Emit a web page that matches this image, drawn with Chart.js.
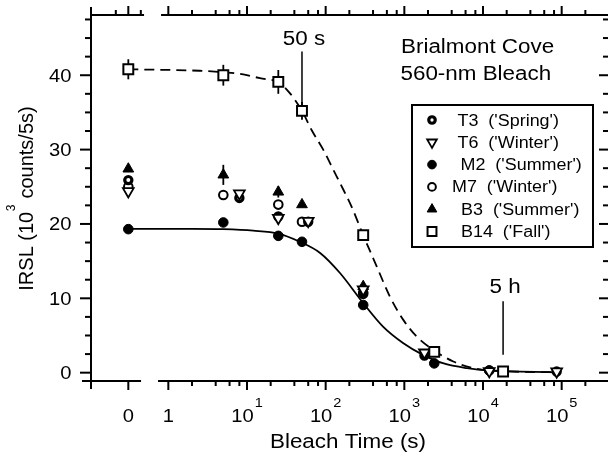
<!DOCTYPE html>
<html>
<head>
<meta charset="utf-8">
<title>Brialmont Cove IRSL bleach</title>
<script src="https://cdn.jsdelivr.net/npm/chart.js@4.4.1/dist/chart.umd.min.js"></script>
<style>
  html, body { margin: 0; padding: 0; background: #fff; }
  #wrap { width: 608px; height: 460px; position: relative; }
</style>
</head>
<body>
<div id="wrap"><canvas id="chart"></canvas></div>
<script>
// bleach times in seconds; 0 s sits on the short broken-off stub of the axis
const ZERO_POS = 0.31;

const t3Times  = [0, 8, 25, 60, 300, 1800, 12000, 86400];
const t3Values = [25.9, 23.5, 21.0, 20.3, 10.8, 2.3, 0.3, 0.15];

const t6Times  = [0, 8, 25, 60, 300, 1800, 12000, 86400];
const t6Values = [24.4, 24.1, 20.8, 20.4, 11.2, 2.7, 0.2, 0.15];

const m2Times  = [0, 5, 25, 50, 300, 2400, 12000];
const m2Values = [19.3, 20.2, 18.4, 17.6, 9.1, 1.25, 0.3];

const m7Times  = [0, 5, 25, 50, 300];
const m7Values = [25.0, 23.9, 22.6, 20.3, 10.6];

const b3Times  = [0, 5, 25, 50, 300];
const b3Values = [27.4, 26.6, 24.3, 22.6, 11.6];
const b3Err    = [0, 1.35, 0.75, 0, 0];

const b14Times  = [0, 5, 25, 50, 300, 2400, 18000];
const b14Values = [40.8, 40.0, 39.1, 35.2, 18.5, 2.8, 0.15];
const b14Err    = [1.35, 1.4, 1.6, 1.2, 0, 0, 0];

// fitted curves
const fitM2Times  = [0, 2, 5, 12, 25, 47, 85, 152, 298, 536, 962, 1726, 3090, 6270, 12300, 87000];
const fitM2Values = [19.35, 19.35, 19.3, 19.1, 18.7, 17.6, 16.1, 13.4, 9.4, 6.2, 4.0, 2.4, 1.27, 0.6, 0.27, 0.05];

const fitB14Times  = [0, 2.5, 5, 8, 14.6, 25.6, 35, 50, 66.5, 93, 125, 168, 214, 300, 445, 657, 970, 1436, 2335, 4190, 7520, 16400, 87000];
const fitB14Values = [40.8, 40.6, 40.4, 40.2, 39.6, 39.0, 37.6, 35.2, 32.6, 30.0, 27.3, 24.6, 22.3, 18.5, 14.3, 10.2, 7.1, 4.85, 3.05, 1.5, 0.6, 0.23, 0.05];

const legendLabels = ["T3  ('Spring')", "T6  ('Winter')", "M2  ('Summer')", "M7  ('Winter')", "B3  ('Summer')", "B14  ('Fall')"];

const xTickValues = [0, 1, 10, 100, 1000, 10000, 100000];
const xTickLabels = ['0', '1', '10^1', '10^2', '10^3', '10^4', '10^5'];
const yTickValues = [0, 10, 20, 30, 40];
const yTickLabels = ['0', '10', '20', '30', '40'];

const annotations = [
  { time: 50, label: '50 s', textAt: 44.0, lineFrom: 43.2, lineTo: 36.0 },
  { time: 18000, label: '5 h', textAt: 10.75, lineFrom: 9.6, lineTo: 2.4 }
];

const SX = 1.12;  // type in the original is set a little wide
const FONT = '"Liberation Sans", Arial, sans-serif';

function xPos(t) { return t === 0 ? ZERO_POS : t; }
function toPts(times, vals) { return times.map((t, i) => ({ x: xPos(t), y: vals[i] })); }

function text(ctx, str, x, y, size, align) {
  ctx.font = size + 'px ' + FONT;
  const w = ctx.measureText(str).width * SX;
  const x0 = align === 'center' ? x - w / 2 : align === 'right' ? x - w : x;
  ctx.save();
  ctx.translate(x0, y);
  ctx.scale(SX, 1);
  ctx.fillText(str, 0, 0);
  ctx.restore();
  return w;
}

function seg(ctx, x1, y1, x2, y2) {
  ctx.beginPath(); ctx.moveTo(x1, y1); ctx.lineTo(x2, y2); ctx.stroke();
}

const series = [
  { label: legendLabels[0], times: t3Times, values: t3Values, style: { pointStyle: 'circle', radius: 3.6, borderWidth: 3.2, fill: '#fff', rotation: 0 }, order: 3, lx: 457.5 },
  { label: legendLabels[1], times: t6Times, values: t6Values, style: { pointStyle: 'triangle', radius: 6.2, borderWidth: 1.8, fill: '#fff', rotation: 180 }, order: 2, lx: 457.5 },
  { label: legendLabels[2], times: m2Times, values: m2Values, style: { pointStyle: 'circle', radius: 4.8, borderWidth: 1, fill: '#000', rotation: 0 }, order: 5, lx: 460.5 },
  { label: legendLabels[3], times: m7Times, values: m7Values, style: { pointStyle: 'circle', radius: 4.3, borderWidth: 2, fill: '#fff', rotation: 0 }, order: 4, lx: 452 },
  { label: legendLabels[4], times: b3Times, values: b3Values, style: { pointStyle: 'triangle', radius: 6.2, borderWidth: 1, fill: '#000', rotation: 0 }, order: 6, lx: 461 },
  { label: legendLabels[5], times: b14Times, values: b14Values, style: { pointStyle: 'rect', radius: 7, borderWidth: 2, fill: '#fff', rotation: 0 }, order: 1, lx: 461 }
];

const errorSets = [
  { times: b14Times, values: b14Values, err: b14Err },
  { times: b3Times, values: b3Values, err: b3Err }
];

const datasets = series.map(s => ({
  label: s.label,
  data: toPts(s.times, s.values),
  showLine: false,
  pointStyle: s.style.pointStyle,
  pointRadius: s.style.radius,
  pointRotation: s.style.rotation,
  pointBorderWidth: s.style.borderWidth,
  pointBackgroundColor: s.style.fill,
  pointBorderColor: '#000',
  order: s.order
}));

datasets.push({
  label: 'fit M2',
  data: toPts(fitM2Times, fitM2Values),
  showLine: true, pointRadius: 0, borderColor: '#000', borderWidth: 1.8,
  cubicInterpolationMode: 'monotone', order: 20
});
datasets.push({
  label: 'fit B14',
  data: toPts(fitB14Times, fitB14Values),
  showLine: true, pointRadius: 0, borderColor: '#000', borderWidth: 1.8,
  borderDash: [10, 6], cubicInterpolationMode: 'monotone', order: 21
});

const decorPlugin = {
  id: 'decor',
  beforeDatasetsDraw(chart) {
    const ctx = chart.ctx, xs = chart.scales.x, ys = chart.scales.y;
    ctx.save();
    ctx.strokeStyle = '#000';
    ctx.lineWidth = 1.8;
    errorSets.forEach(set => {
      set.times.forEach((t, i) => {
        const e = set.err[i];
        if (!e) return;
        const px = xs.getPixelForValue(xPos(t));
        seg(ctx, px, ys.getPixelForValue(set.values[i] - e), px, ys.getPixelForValue(set.values[i] + e));
      });
    });
    ctx.restore();
  },
  afterDatasetsDraw(chart) {
    const ctx = chart.ctx, xs = chart.scales.x, ys = chart.scales.y;
    const a = chart.chartArea;
    const L = a.left, R = a.right, T = a.top, B = a.bottom;
    ctx.save();
    ctx.strokeStyle = '#000';
    ctx.fillStyle = '#000';
    ctx.lineWidth = 2;

    // frame with the break between 0 and 1 s
    const bx1 = xs.getPixelForValue(0.45), bx2 = xs.getPixelForValue(0.74);
    seg(ctx, L, T - 8, L, B + 8);
    seg(ctx, L - 9, B, bx1, B);
    seg(ctx, bx2, B, R, B);
    seg(ctx, L, T, bx1 + 3, T);
    seg(ctx, bx2 + 3, T, R, T);

    // x ticks
    const minors = [];
    for (let d = 1; d <= 1e5; d *= 10) {
      [2, 4, 6, 8].forEach(m => { if (d * m < xs.max) minors.push(d * m); });
    }
    xTickValues.forEach(v => {
      const px = xs.getPixelForValue(xPos(v));
      seg(ctx, px, B, px, B + 9);
      seg(ctx, px, T, px, T - 9);
    });
    minors.forEach(v => {
      const px = xs.getPixelForValue(v);
      seg(ctx, px, B, px, B + 5);
      seg(ctx, px, T, px, T - 5);
    });
    const zx = xs.getPixelForValue(ZERO_POS);
    seg(ctx, zx - 12.5, T, zx - 12.5, T - 5);
    seg(ctx, zx + 12.5, T, zx + 12.5, T - 5);

    // y ticks, left (outward) and right (inward)
    for (let v = 0; v < ys.max; v += 2.5) {
      const py = ys.getPixelForValue(v);
      const major = v % 10 === 0;
      seg(ctx, L, py, L - (major ? 11 : 6), py);
      seg(ctx, R, py, R - (major ? 9 : 5), py);
    }

    // tick labels
    xTickValues.forEach((v, i) => {
      const px = xs.getPixelForValue(xPos(v));
      const parts = xTickLabels[i].split('^');
      if (parts.length === 1) {
        text(ctx, parts[0], px, 421.5, 18, 'center');
      } else {
        ctx.font = '18px ' + FONT;
        const w1 = ctx.measureText(parts[0]).width * SX;
        ctx.font = '13px ' + FONT;
        const w2 = ctx.measureText(parts[1]).width * SX;
        const x0 = px - (w1 + w2 + 1) / 2;
        text(ctx, parts[0], x0, 421.5, 18, 'left');
        text(ctx, parts[1], x0 + w1 + 1, 406.5, 13, 'left');
      }
    });
    yTickValues.forEach((v, i) => {
      const py = ys.getPixelForValue(v);
      text(ctx, yTickLabels[i], 71.5, py + 6.4, 18, 'right');
    });

    // axis titles
    text(ctx, 'Bleach Time (s)', 348, 447.5, 20, 'center');
    ctx.save();
    ctx.translate(33.3, 198.5);
    ctx.scale(1.05, 1);
    ctx.rotate(-Math.PI / 2);
    ctx.font = '20px ' + FONT;
    const p1 = 'IRSL (10', p3 = ' counts/5s)';
    const w1 = ctx.measureText(p1).width, w3 = ctx.measureText(p3).width;
    ctx.font = '12px ' + FONT;
    const w2 = ctx.measureText('3').width + 1;
    let u = -(w1 + w2 + w3) / 2;
    ctx.font = '20px ' + FONT;
    ctx.fillText(p1, u, 0);
    ctx.font = '12px ' + FONT;
    ctx.fillText('3', u + w1 + 0.5, -17);
    ctx.font = '20px ' + FONT;
    ctx.fillText(p3, u + w1 + w2, 0);
    ctx.restore();

    // title block
    text(ctx, 'Brialmont Cove', 401, 53.3, 20, 'left');
    text(ctx, '560-nm Bleach', 400.5, 80, 20, 'left');

    // annotations
    ctx.lineWidth = 1.5;
    annotations.forEach(an => {
      const px = xs.getPixelForValue(an.time);
      text(ctx, an.label, px + 2, ys.getPixelForValue(an.textAt), 20, 'center');
      seg(ctx, px, ys.getPixelForValue(an.lineFrom), px, ys.getPixelForValue(an.lineTo));
    });

    // legend box
    ctx.lineWidth = 2;
    ctx.fillStyle = '#fff';
    ctx.fillRect(412, 105, 181, 142);
    ctx.strokeRect(412, 105, 181, 142);
    series.forEach((s, i) => {
      const ry = 120 + i * 22.3;
      ctx.fillStyle = s.style.fill;
      ctx.strokeStyle = '#000';
      ctx.lineWidth = s.style.borderWidth;
      Chart.helpers.drawPoint(ctx, {
        pointStyle: s.style.pointStyle,
        rotation: s.style.rotation,
        radius: s.style.radius * 0.9,
        borderWidth: s.style.borderWidth
      }, 432, ry);
      ctx.fillStyle = '#000';
      text(ctx, s.label, s.lx, ry + 5.5, 16, 'left');
    });
    ctx.restore();
  }
};

new Chart(document.getElementById('chart'), {
  type: 'scatter',
  data: { datasets: datasets },
  options: {
    responsive: true,
    maintainAspectRatio: false,
    animation: false,
    events: [],
    layout: { autoPadding: false, padding: { left: 91, top: 15, right: 0, bottom: 79 } },
    plugins: { legend: { display: false }, tooltip: { enabled: false }, title: { display: false } },
    scales: {
      x: { type: 'logarithmic', min: 0.104, max: 3.88e5, bounds: 'data', display: false },
      y: { type: 'linear', min: -1.12, max: 48.1, bounds: 'data', display: false }
    }
  },
  plugins: [decorPlugin]
});
</script>
</body>
</html>
